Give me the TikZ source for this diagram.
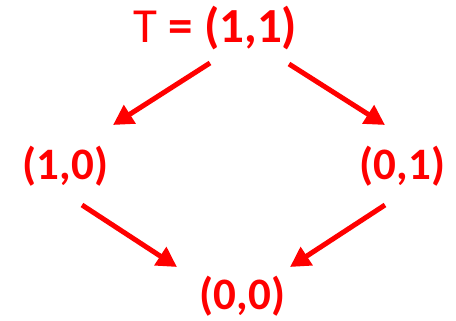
\documentclass[tikz,border=0pt]{standalone}
\usepackage{fontspec}
\setmainfont{Carlito}
\usetikzlibrary{arrows.meta}
\tikzset{
	pair/.style={text=red, inner sep=0pt, anchor=base, font=\fontsize{45}{54}\selectfont\bfseries},
	order/.style={draw=red, line width=5pt, -{Triangle[length=20pt, width=21pt]}},
}
\begin{document}
\begin{tikzpicture}[x=1pt, y=-1pt]
	\useasboundingbox (0, 0) rectangle (456, 321);
	% Nodes of the order:
	\node[pair, font=\fontsize{49}{58}\selectfont] (top) at (215.5, 43){T \textbf{= (1,1)}};
	\node[pair] (left) at (65.5, 179){(1,0)};
	\node[pair] (right) at (402.5, 179){(0,1)};
	\node[pair] (bottom) at (242.5, 309){(0,0)};
	% Arrow ends:
	\coordinate (topl) at (210, 63);
	\coordinate (topr) at (289, 64);
	\coordinate (leftin) at (113, 125);
	\coordinate (rightin) at (385, 125);
	\coordinate (leftout) at (82, 205);
	\coordinate (rightout) at (385, 205);
	\coordinate (botl) at (177, 267);
	\coordinate (botr) at (290, 267);
	\draw[order] (topl) -- (leftin);
	\draw[order] (topr) -- (rightin);
	\draw[order] (leftout) -- (botl);
	\draw[order] (rightout) -- (botr);
\end{tikzpicture}
\end{document}
